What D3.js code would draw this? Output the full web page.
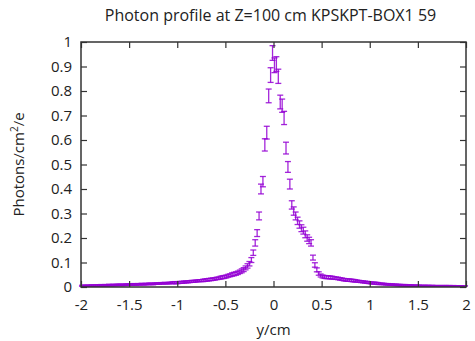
<!DOCTYPE html>
<html>
<head>
<meta charset="utf-8">
<script src="https://cdn.jsdelivr.net/npm/d3@7"></script>
<style>
  body { margin: 0; background: #fff; }
  svg text { font-family: "Open Sans", "DejaVu Sans", sans-serif; fill: #222; }
</style>
</head>
<body>
<svg id="chart" width="475" height="341"></svg>
<script>
// bins of 0.02 cm from -2 to 2 (left to right)
var binLo = -2, binWidth = 0.02;
var photons = [
    0.004,0.005,0.004,0.005,0.005,0.006,0.005,0.006,0.006,0.006
  , 0.007,0.006,0.007,0.007,0.008,0.007,0.008,0.008,0.008,0.009
  , 0.009,0.008,0.009,0.010,0.009,0.010,0.010,0.011,0.010,0.011
  , 0.011,0.012,0.011,0.012,0.012,0.013,0.013,0.012,0.014,0.014
  , 0.014,0.015,0.015,0.016,0.015,0.016,0.017,0.017,0.018,0.017
  , 0.018,0.019,0.019,0.020,0.021,0.021,0.022,0.023,0.023,0.024
  , 0.025,0.026,0.026,0.027,0.028,0.029,0.030,0.031,0.032,0.033
  , 0.035,0.036,0.038,0.040,0.041,0.043,0.046,0.048,0.051,0.053
  , 0.055,0.058,0.062,0.066,0.071,0.078,0.086,0.095,0.110,0.140
  , 0.180,0.220,0.290,0.400,0.430,0.580,0.630,0.780,0.865,0.955
  , 0.905,0.910,0.860,0.755,0.740,0.690,0.567,0.490,0.420,0.335
  , 0.310,0.290,0.270,0.255,0.240,0.230,0.215,0.200,0.190,0.180
  , 0.120,0.090,0.070,0.055,0.047,0.043,0.041,0.040,0.040,0.039
  , 0.038,0.037,0.036,0.035,0.033,0.032,0.030,0.029,0.028,0.028
  , 0.027,0.026,0.025,0.024,0.023,0.022,0.021,0.020,0.019,0.018
  , 0.017,0.016,0.016,0.015,0.014,0.013,0.013,0.012,0.011,0.011
  , 0.010,0.010,0.009,0.009,0.008,0.008,0.007,0.007,0.007,0.006
  , 0.006,0.006,0.005,0.005,0.005,0.005,0.004,0.004,0.004,0.004
  , 0.004,0.003,0.004,0.003,0.003,0.003,0.003,0.003,0.003,0.003
  , 0.003,0.003,0.002,0.003,0.002,0.002,0.002,0.002,0.002,0.002
];
var errors = [
    0.003,0.003,0.003,0.003,0.003,0.003,0.003,0.003,0.003,0.003
  , 0.003,0.003,0.003,0.003,0.003,0.003,0.003,0.003,0.003,0.003
  , 0.003,0.003,0.003,0.003,0.003,0.003,0.003,0.003,0.003,0.003
  , 0.003,0.003,0.003,0.003,0.003,0.003,0.003,0.003,0.003,0.003
  , 0.003,0.003,0.003,0.003,0.003,0.003,0.003,0.004,0.004,0.004
  , 0.004,0.004,0.004,0.004,0.004,0.004,0.004,0.004,0.004,0.004
  , 0.004,0.004,0.004,0.005,0.005,0.005,0.005,0.005,0.005,0.005
  , 0.005,0.005,0.006,0.006,0.006,0.006,0.006,0.006,0.007,0.007
  , 0.007,0.007,0.007,0.008,0.008,0.008,0.009,0.009,0.010,0.011
  , 0.013,0.014,0.016,0.020,0.021,0.025,0.026,0.028,0.030,0.030
  , 0.030,0.030,0.029,0.028,0.027,0.027,0.024,0.022,0.020,0.017
  , 0.017,0.016,0.015,0.015,0.014,0.014,0.014,0.013,0.013,0.013
  , 0.010,0.009,0.008,0.007,0.006,0.006,0.006,0.006,0.006,0.006
  , 0.006,0.005,0.005,0.005,0.005,0.005,0.005,0.005,0.005,0.005
  , 0.005,0.005,0.005,0.004,0.004,0.004,0.004,0.004,0.004,0.004
  , 0.004,0.004,0.004,0.004,0.004,0.003,0.003,0.003,0.003,0.003
  , 0.003,0.003,0.003,0.003,0.003,0.003,0.003,0.003,0.003,0.003
  , 0.003,0.003,0.003,0.003,0.003,0.003,0.003,0.003,0.003,0.003
  , 0.003,0.003,0.003,0.003,0.003,0.003,0.003,0.003,0.003,0.003
  , 0.003,0.003,0.003,0.003,0.003,0.003,0.003,0.003,0.003,0.003
];
var xTicks = [-2, -1.5, -1, -0.5, 0, 0.5, 1, 1.5, 2];
var yTicks = [0, 0.1, 0.2, 0.3, 0.4, 0.5, 0.6, 0.7, 0.8, 0.9, 1];
var titleText = "Photon profile at Z=100 cm KPSKPT-BOX1 59";

var margin = { top: 42, right: 9, bottom: 54, left: 81 }
  , width = 475 - margin.left - margin.right
  , height = 341 - margin.top - margin.bottom
  , color = "#9400d3"
;

var data = photons.map(function(v, i) {
    return { x: binLo + binWidth * (i + 0.5), y: v, e: errors[i] };
});

var x = d3.scaleLinear().domain([-2, 2]).range([0, width]);
var y = d3.scaleLinear().domain([0, 1]).range([height, 0]);

var svg = d3.select("#chart");
var g = svg.append("g")
    .attr("transform", "translate(" + margin.left + "," + margin.top + ")");

// error bars
g.append("clipPath").attr("id", "clip")
  .append("rect").attr("x", -4).attr("y", 0).attr("width", width + 8).attr("height", height);

var bars = g.append("g")
    .attr("clip-path", "url(#clip)")
    .attr("stroke", color)
    .attr("stroke-width", 1.3)
    .attr("stroke-opacity", 0.85)
    .selectAll("g.bar").data(data)
  .enter().append("g")
    .attr("class", "bar");

bars.append("line")
    .attr("x1", function(d) { return x(d.x); })
    .attr("x2", function(d) { return x(d.x); })
    .attr("y1", function(d) { return y(d.y - d.e); })
    .attr("y2", function(d) { return y(d.y + d.e); });
bars.append("line")
    .attr("x1", function(d) { return x(d.x) - 3; })
    .attr("x2", function(d) { return x(d.x) + 3; })
    .attr("y1", function(d) { return y(d.y - d.e); })
    .attr("y2", function(d) { return y(d.y - d.e); });
bars.append("line")
    .attr("x1", function(d) { return x(d.x) - 3; })
    .attr("x2", function(d) { return x(d.x) + 3; })
    .attr("y1", function(d) { return y(d.y + d.e); })
    .attr("y2", function(d) { return y(d.y + d.e); });

// axes, gnuplot style: inward ticks, mirrored
function styleAxis(sel) {
    sel.select(".domain").remove();
    sel.selectAll(".tick line").attr("stroke", "#333").attr("stroke-width", 1.2);
    sel.selectAll(".tick text").attr("font-size", 15).attr("fill", "#222");
}
var fmt = function(d) { return String(d); };

g.append("g")
    .attr("transform", "translate(0," + height + ")")
    .call(d3.axisBottom(x).tickValues(xTicks).tickFormat(fmt).tickSize(-6).tickPadding(12))
    .call(styleAxis);
g.append("g")
    .call(d3.axisTop(x).tickValues(xTicks).tickSize(-6).tickFormat(""))
    .call(styleAxis);
g.append("g")
    .call(d3.axisLeft(y).tickValues(yTicks).tickFormat(fmt).tickSize(-6).tickPadding(9))
    .call(styleAxis);
g.append("g")
    .attr("transform", "translate(" + width + ",0)")
    .call(d3.axisRight(y).tickValues(yTicks).tickSize(-6).tickFormat(""))
    .call(styleAxis);

g.append("rect")
    .attr("width", width).attr("height", height)
    .attr("fill", "none").attr("stroke", "#333").attr("stroke-width", 1.5);

// texts
svg.append("text")
    .attr("x", margin.left + width / 2 - 3).attr("y", 21)
    .attr("text-anchor", "middle").attr("font-size", 16)
    .text(titleText);

svg.append("text")
    .attr("x", margin.left + x(0)).attr("y", 335)
    .attr("text-anchor", "middle").attr("font-size", 15)
    .text("y/cm");

var yl = svg.append("text")
    .attr("transform", "translate(24," + (margin.top + height / 2) + ") rotate(-90)")
    .attr("text-anchor", "middle").attr("font-size", 15);
yl.append("tspan").text("Photons/cm");
yl.append("tspan").attr("font-size", 10).attr("dy", -6).text("2");
yl.append("tspan").attr("dy", 6).text("/e");
</script>
</body>
</html>
